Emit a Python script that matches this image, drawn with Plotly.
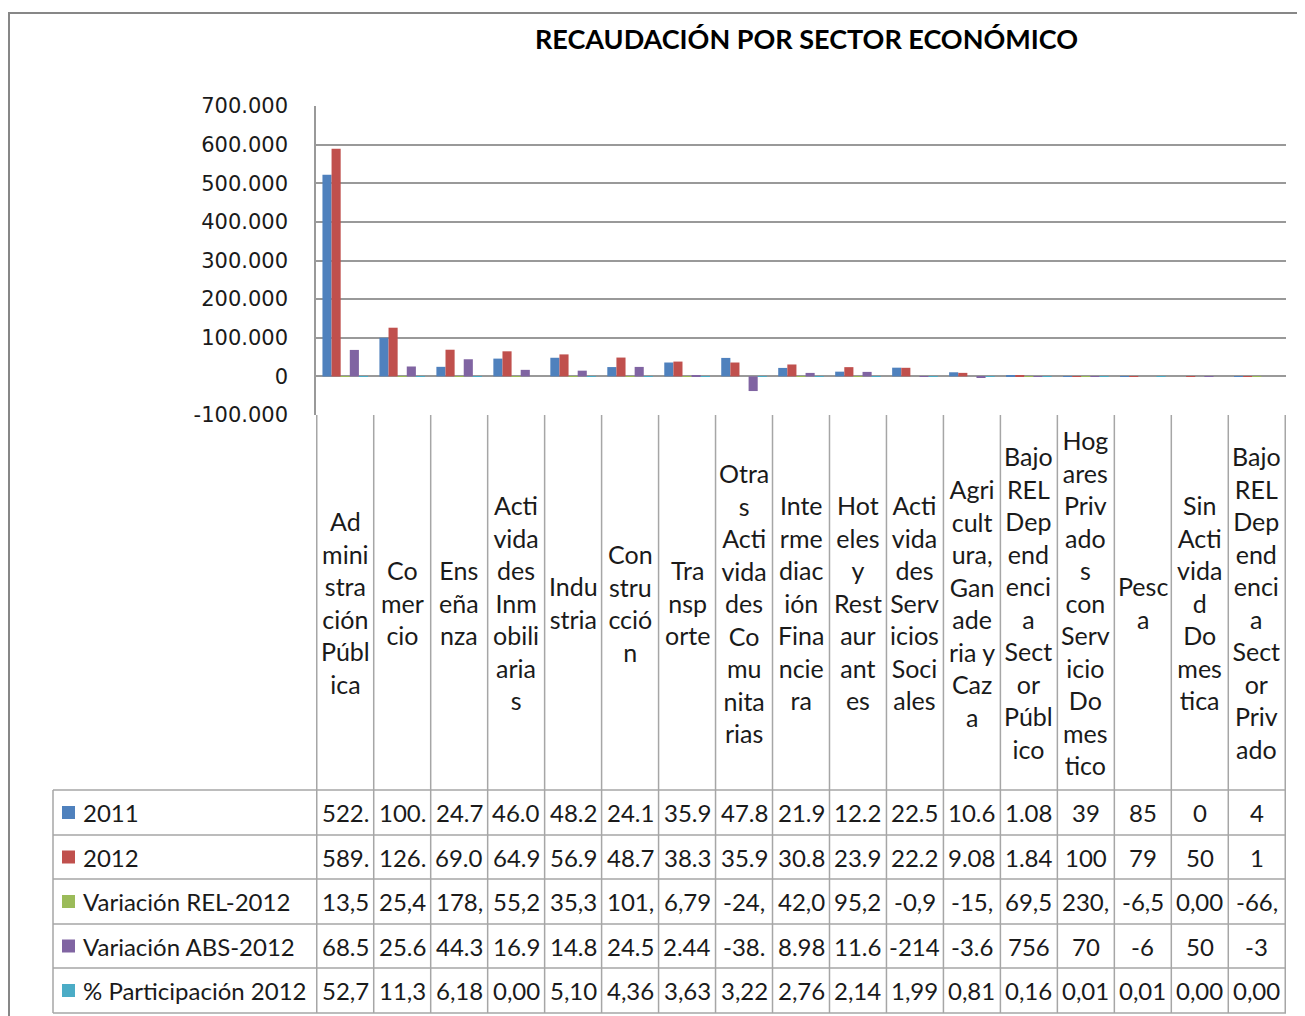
import plotly.graph_objects as go

# the page adds an 8px body margin, so the figure is drawn 8px in from the top-left
OFF = 8
W, H = 1305 - OFF, 1016 - OFF

categories = [
    "Administración Pública", "Comercio", "Enseñanza", "Actividades Inmobiliarias",
    "Industria", "Construcción", "Transporte", "Otras Actividades Comunitarias",
    "Intermediación Financiera", "Hoteles y Restaurantes", "Actividades Servicios Sociales",
    "Agricultura, Ganaderia y Caza", "Bajo REL Dependencia Sector Público",
    "Hogares Privados con Servicio Domestico", "Pesca", "Sin Actividad Domestica",
    "Bajo REL Dependencia Sector Privado",
]
# category labels as Excel wrapped them in the data table header
tick_labels = [
    "Ad<br>mini<br>stra<br>ción<br>Públ<br>ica",
    "Co<br>mer<br>cio",
    "Ens<br>eña<br>nza",
    "Acti<br>vida<br>des<br>Inm<br>obili<br>aria<br>s",
    "Indu<br>stria",
    "Con<br>stru<br>cció<br>n",
    "Tra<br>nsp<br>orte",
    "Otra<br>s<br>Acti<br>vida<br>des<br>Co<br>mu<br>nita<br>rias",
    "Inte<br>rme<br>diac<br>ión<br>Fina<br>ncie<br>ra",
    "Hot<br>eles<br>y<br>Rest<br>aur<br>ant<br>es",
    "Acti<br>vida<br>des<br>Serv<br>icios<br>Soci<br>ales",
    "Agri<br>cult<br>ura,<br>Gan<br>ade<br>ria y<br>Caz<br>a",
    "Bajo<br>REL<br>Dep<br>end<br>enci<br>a<br>Sect<br>or<br>Públ<br>ico",
    "Hog<br>ares<br>Priv<br>ado<br>s<br>con<br>Serv<br>icio<br>Do<br>mes<br>tico",
    "Pesc<br>a",
    "Sin<br>Acti<br>vida<br>d<br>Do<br>mes<br>tica",
    "Bajo<br>REL<br>Dep<br>end<br>enci<br>a<br>Sect<br>or<br>Priv<br>ado",
]

rec_2011 = [522000, 100000, 24700, 46000, 48200, 24100, 35900, 47800, 21900, 12200,
            22500, 10600, 1080, 39, 85, 0, 4]
rec_2012 = [589000, 126000, 69000, 64900, 56900, 48700, 38300, 35900, 30800, 23900,
            22200, 9080, 1840, 100, 79, 50, 1]
var_rel = [13.5, 25.4, 178, 55.2, 35.3, 101, 6.79, -24, 42.0, 95.2, -0.9, -15, 69.5,
           230, -6.5, 0.0, -66]
var_abs = [68500, 25600, 44300, 16900, 14800, 24500, 2440, -38000, 8980, 11600, -214,
           -3600, 756, 70, -6, 50, -3]
participacion = [52.7, 11.3, 6.18, 0.0, 5.10, 4.36, 3.63, 3.22, 2.76, 2.14, 1.99, 0.81,
                 0.16, 0.01, 0.01, 0.0, 0.0]

series_names = ["2011", "2012", "Variación REL-2012", "Variación ABS-2012", "% Participación 2012"]
series_values = [rec_2011, rec_2012, var_rel, var_abs, participacion]
series_colors = ["#4F81BD", "#C0504D", "#9BBB59", "#8064A2", "#4BACC6"]

y_ticks = [-100000, 0, 100000, 200000, 300000, 400000, 500000, 600000, 700000]


def miles(v):
    return f"{v:,.0f}".replace(",", ".")


def fmt_miles(v):
    return miles(v)[:4]


def fmt_decimal(v):
    return f"{v:.2f}".replace(".", ",")[:4]


series_fmt = [fmt_miles, fmt_miles, fmt_decimal, fmt_miles, fmt_decimal]


def px(p):
    return (p - OFF) / W


def py(p):
    return 1 - (p - OFF) / H


FONT = "Lato"
GRID = "#999999"
LINE = "#A6A6A6"
TXT = "#1a1a1a"

plot_left, plot_right, plot_top, plot_bottom = 316, 1286, 106, 415

fig = go.Figure()
for name, vals, color in zip(series_names, series_values, series_colors):
    fig.add_trace(go.Bar(x=categories, y=vals, name=name, marker_color=color,
                         marker_line_width=0, showlegend=False))

# table geometry (pixels)
header_top, header_bottom = plot_bottom, 790
row_edges = [790, 835, 879, 924, 968, 1013]
legend_left = 53
leg_dom = (legend_left - plot_left) / (plot_right - plot_left)

shapes = []
# outer chart frame (left edge sits right at the page margin)
shapes.append(dict(type="rect", xref="paper", yref="paper", x0=px(9), x1=1.02,
                   y0=-0.02, y1=py(13), line=dict(color="#878787", width=2)))
# vertical table lines at category boundaries
for k in range(len(categories) + 1):
    shapes.append(dict(type="line", xref="x", yref="paper", x0=k - 0.5, x1=k - 0.5,
                       y0=py(row_edges[-1]), y1=py(header_top),
                       line=dict(color=LINE, width=1.5)))
# horizontal row lines, including the legend column
for e in row_edges:
    shapes.append(dict(type="line", xref="x domain", yref="paper", x0=leg_dom, x1=1,
                       y0=py(e), y1=py(e), line=dict(color=LINE, width=1.5)))
shapes.append(dict(type="line", xref="x domain", yref="paper", x0=leg_dom, x1=leg_dom,
                   y0=py(row_edges[-1]), y1=py(row_edges[0]),
                   line=dict(color=LINE, width=1.5)))

annotations = [dict(text="<b>RECAUDACIÓN POR SECTOR ECONÓMICO</b>", xref="paper", yref="paper",
                    x=px(807), y=py(38), xanchor="center", yanchor="middle", showarrow=False,
                    font=dict(family=FONT, size=27, color="#000000"))]

header_mid = (header_top + header_bottom) / 2
for i, lab in enumerate(tick_labels):
    annotations.append(dict(text=lab, xref="x", yref="paper", x=i, y=py(header_mid),
                            xanchor="center", yanchor="middle", showarrow=False,
                            font=dict(family=FONT, size=25, color=TXT)))

for r, (name, vals, color, fmt) in enumerate(zip(series_names, series_values,
                                                 series_colors, series_fmt)):
    mid = (row_edges[r] + row_edges[r + 1]) / 2
    shapes.append(dict(type="rect", xref="paper", yref="paper", x0=px(62), x1=px(75),
                       y0=py(mid + 6.5), y1=py(mid - 6.5), fillcolor=color, line_width=0))
    annotations.append(dict(text=name, xref="paper", yref="paper", x=px(81), y=py(mid),
                            xanchor="left", yanchor="middle", showarrow=False,
                            font=dict(family=FONT, size=24, color=TXT)))
    for i, v in enumerate(vals):
        annotations.append(dict(text=fmt(v), xref="x", yref="paper", x=i, y=py(mid),
                                xanchor="center", yanchor="middle", showarrow=False,
                                font=dict(family=FONT, size=24, color=TXT)))

fig.update_layout(
    width=W,
    height=H,
    margin=dict(l=0, r=0, t=0, b=0),
    paper_bgcolor="#ffffff",
    plot_bgcolor="#ffffff",
    barmode="group",
    bargap=0.2,
    bargroupgap=0,
    shapes=shapes,
    annotations=annotations,
    font=dict(family=FONT, color=TXT),
)
fig.update_xaxes(domain=[px(plot_left), px(plot_right)], showticklabels=False,
                 showgrid=False, zeroline=False, showline=False, automargin=False)
fig.update_yaxes(domain=[py(plot_bottom), py(plot_top)], range=[-100000, 700000],
                 tickvals=y_ticks, ticktext=[miles(t) for t in y_ticks],
                 showgrid=True, gridcolor=GRID, gridwidth=1.6,
                 zeroline=True, zerolinecolor=GRID, zerolinewidth=1.6,
                 showline=True, linecolor=GRID, linewidth=1.6, ticks="",
                 ticklabelstandoff=22, automargin=False,
                 tickfont=dict(family="DejaVu Sans", size=21, color=TXT))

fig.write_html("out.html")
